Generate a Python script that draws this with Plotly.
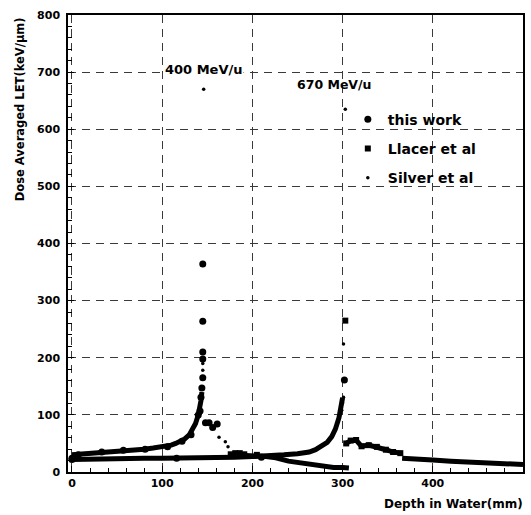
import plotly.graph_objects as go

# ---------------- data ----------------
# "this work" - large circles
work_x = [0, 7, 33, 57, 81, 106, 122, 132, 140, 142, 143, 144, 145, 145, 145, 145, 145,
          148, 152, 156, 161, 0, 116, 210, 302]
work_y = [24, 30, 35, 38, 40, 44, 54, 65, 100, 107, 131, 147, 165, 198, 210, 264, 364,
          86, 86, 78, 84, 22, 24, 26, 161]

# "Llacer et al" - squares (bumps on plateau, 670 peak, 670 tail)
llacer_x = [176, 181, 186, 191, 205, 303, 304, 309, 315, 321, 329, 338, 348, 356, 364]
llacer_y = [31, 33, 33, 31, 30, 265, 50, 55, 56, 45, 47, 44, 39, 35, 33]
llacer_tail_x = [304, 309, 315, 321, 329, 338, 348, 356, 364]
llacer_tail_y = [50, 55, 56, 45, 47, 44, 39, 35, 33]

# "Silver et al" - small dots (isolated points)
silver_x = [146, 303, 145, 145, 163, 170, 173, 301, 301, 300, 299]
silver_y = [670, 635, 190, 178, 61, 53, 44, 224, 131, 121, 108]

# "Silver et al" dense curves
s400_x = [0, 10, 20, 30, 40, 50, 60, 70, 80, 90, 100, 110, 115, 120, 125, 130, 134, 137, 140, 142, 143, 144]
s400_y = [30, 31, 32, 33, 35, 36, 37, 38, 40, 42, 44, 47, 50, 54, 58, 65, 75, 85, 100, 112, 125, 140]
s400_tail_x = [175, 185, 195, 205, 215, 226, 240, 255, 265, 277, 290, 300, 307]
s400_tail_y = [30, 30, 29, 28, 27, 25, 19, 16, 13, 10, 8, 8, 7]
s670_x = [0, 20, 40, 60, 80, 100, 120, 140, 160, 180, 200, 220, 235, 250, 263, 270, 277, 283, 288, 292, 296, 298, 300]
s670_y = [22, 23, 23, 23, 24, 24, 24, 25, 26, 26, 27, 28, 30, 32, 35, 39, 45, 52, 62, 75, 95, 110, 130]
s670_tail_x = [366, 380, 400, 420, 440, 460, 480, 500]
s670_tail_y = [24, 22, 21, 19, 18, 17, 15, 13]

x_ticks = [0, 100, 200, 300, 400, 500]
y_ticks = [0, 100, 200, 300, 400, 500, 600, 700, 800]

FONT = "DejaVu Sans"

fig = go.Figure()

# curve lines (no legend)
for cx, cy, grp in [(s400_x, s400_y, "silver"), (s400_tail_x, s400_tail_y, "silver"),
                    (s670_x, s670_y, "silver"), (s670_tail_x, s670_tail_y, "silver"),
                    (llacer_tail_x, llacer_tail_y, "llacer")]:
    fig.add_trace(go.Scatter(x=cx, y=cy, mode="lines", line=dict(color="black", width=5),
                             showlegend=False, legendgroup=grp, hoverinfo="skip"))

fig.add_trace(go.Scatter(x=work_x, y=work_y, mode="markers", name="this work",
                         legendgroup="work",
                         marker=dict(symbol="circle", size=7, color="black")))
fig.add_trace(go.Scatter(x=llacer_x, y=llacer_y, mode="markers", name="Llacer et al",
                         legendgroup="llacer",
                         marker=dict(symbol="square", size=6, color="black")))
fig.add_trace(go.Scatter(x=silver_x, y=silver_y, mode="markers", name="Silver et al",
                         legendgroup="silver",
                         marker=dict(symbol="circle", size=3.5, color="black")))

minor_ticks = dict(dtick=20, tick0=0, ticks="inside", ticklen=4, tickcolor="black", showgrid=False)
axis_common = dict(
    showline=True, linecolor="black", linewidth=1.5, mirror=True,
    ticks="inside", ticklen=6, tickcolor="black", tickwidth=1,
    showgrid=True, gridcolor="#3a3a3a", gridwidth=1, griddash="8px,6px",
    zeroline=False,
    tickfont=dict(family=FONT, size=11, color="black", weight="bold"),
    minor=minor_ticks,
)

fig.update_layout(
    width=531, height=515,
    margin=dict(l=68, r=6, t=15, b=43),
    paper_bgcolor="white", plot_bgcolor="white",
    xaxis=dict(range=[-4.4, 500], tickvals=x_ticks, ticktext=[str(v) for v in x_ticks],
               **axis_common),
    yaxis=dict(range=[0, 800], tickvals=y_ticks, ticklabelstandoff=4, **axis_common),
    showlegend=True,
    legend=dict(x=0.615, y=0.806, xanchor="left", yanchor="top",
                bgcolor="rgba(0,0,0,0)", borderwidth=0,
                traceorder="grouped", tracegroupgap=8,
                font=dict(family=FONT, size=14, color="black", weight="bold"),
                itemwidth=30),
    annotations=[
        dict(text="400 MeV/u", x=146, y=705, xref="x", yref="y", showarrow=False,
             xanchor="center", yanchor="middle", bgcolor="white",
             font=dict(family=FONT, size=13, color="black", weight="bold")),
        dict(text="670 MeV/u", x=291, y=678, xref="x", yref="y", showarrow=False,
             xanchor="center", yanchor="middle",
             font=dict(family=FONT, size=12.5, color="black", weight="bold")),
        dict(text="Depth in Water(mm)", x=1.004, y=-0.07, xref="paper", yref="paper",
             showarrow=False, xanchor="right", yanchor="middle",
             font=dict(family=FONT, size=12, color="black", weight="bold")),
        dict(text="Dose Averaged LET(keV/μm)", x=-0.105, y=1.0, xref="paper", yref="paper",
             showarrow=False, textangle=-90, xanchor="center", yanchor="top",
             font=dict(family=FONT, size=11.5, color="black", weight="bold")),
    ],
)

fig.write_html("out.html")
